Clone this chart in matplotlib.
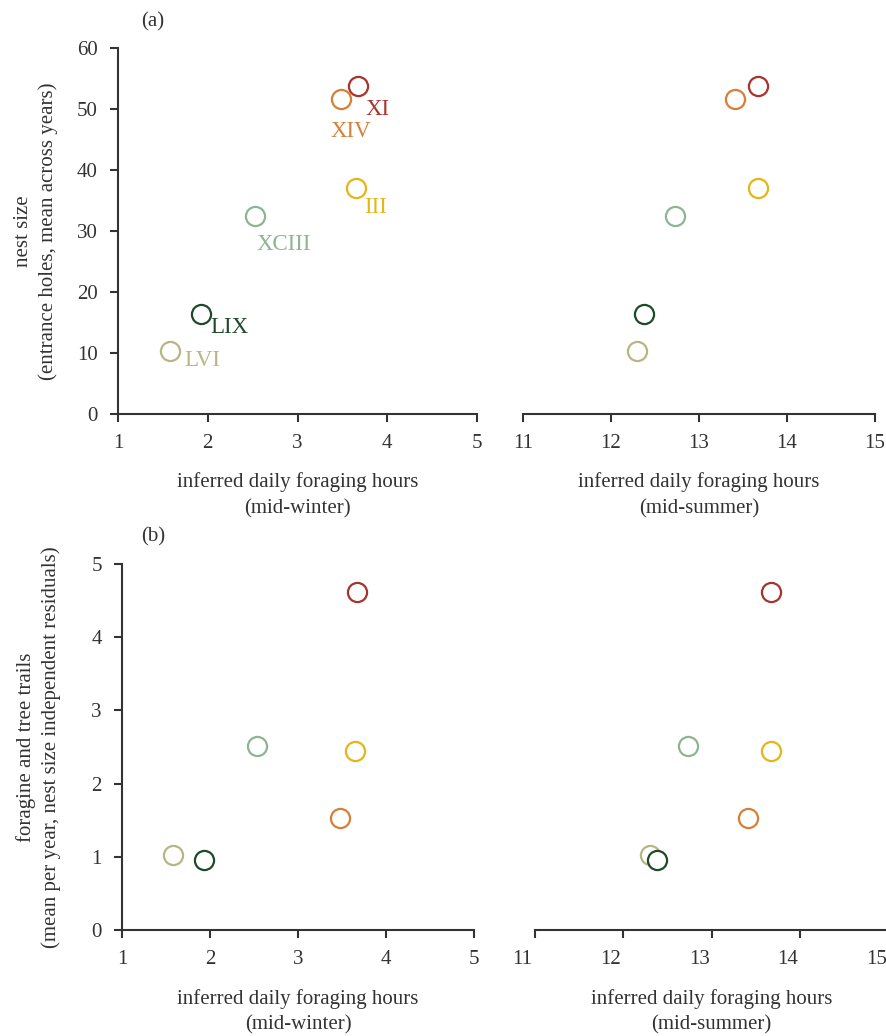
import matplotlib.pyplot as plt
from matplotlib.transforms import ScaledTranslation

plt.rcParams['font.family'] = ['Liberation Serif', 'DejaVu Serif']

# colonies and their values
colonies = ['XI', 'XIV', 'III', 'XCIII', 'LVI', 'LIX']
colors = ['#a8332b', '#d57f3a', '#e3b719', '#8db594', '#b9b584', '#1e4a28']
winter_hours = [3.67, 3.48, 3.65, 2.53, 1.58, 1.93]
summer_hours = [13.67, 13.41, 13.67, 12.73, 12.30, 12.38]
nest_size = [53.8, 51.6, 37.1, 32.5, 10.4, 16.4]
trails = [4.62, 1.53, 2.44, 2.51, 1.02, 0.96]

# label offsets (points) for panel (a), left side
label_offsets = {'XI': (6, -17), 'XIV': (-7, -23), 'III': (6, -14),
                 'XCIII': (1, -21), 'LVI': (10, -7), 'LIX': (6, -10)}

text_col = '#333333'
fs = 15

fig = plt.figure(figsize=(8.86, 10.36), dpi=100)
ax_a1 = fig.add_axes([0.1332, 0.6004, 0.4052, 0.3533])
ax_a2 = fig.add_axes([0.5903, 0.6004, 0.3973, 0.3533])
ax_b1 = fig.add_axes([0.1377, 0.1023, 0.3973, 0.3533])
ax_b2 = fig.add_axes([0.6033, 0.1023, 0.3995, 0.3533])


def style(ax, xlim, xticks, show_y, ylim, yticks):
    ax.set_xlim(*xlim)
    ax.set_ylim(*ylim)
    ax.set_xticks(xticks)
    for s in ['top', 'right']:
        ax.spines[s].set_visible(False)
    ax.spines['bottom'].set_linewidth(1.5)
    ax.spines['bottom'].set_color(text_col)
    ax.spines['left'].set_linewidth(1.5)
    ax.spines['left'].set_color(text_col)
    ax.tick_params(axis='both', length=5.5, width=1.5, color=text_col,
                   labelsize=fs, labelcolor=text_col, pad=9)
    if show_y:
        ax.set_yticks(yticks)
    else:
        ax.spines['left'].set_visible(False)
        ax.set_yticks([])
    ax.patch.set_alpha(0)


def scatter(ax, xs, ys):
    for x, y, c in zip(xs, ys, colors):
        ax.scatter(x, y, s=190, facecolors='white', edgecolors=c,
                   linewidths=1.6, zorder=3, clip_on=False)


# panel (a)
style(ax_a1, (1, 5), [1, 2, 3, 4, 5], True, (0, 60), range(0, 61, 10))
style(ax_a2, (11, 15), [11, 12, 13, 14, 15], False, (0, 60), [])
scatter(ax_a1, winter_hours, nest_size)
scatter(ax_a2, summer_hours, nest_size)
for name, x, y, c in zip(colonies, winter_hours, nest_size, colors):
    ax_a1.annotate(name, (x, y), xytext=label_offsets[name],
                   textcoords='offset points', color=c, fontsize=16.5,
                   ha='left', va='center')

ax_a1.set_ylabel('nest size\n(entrance holes, mean across years)',
                 fontsize=fs, color=text_col, labelpad=14, linespacing=1.35)

# panel (b)
style(ax_b1, (1, 5), [1, 2, 3, 4, 5], True, (0, 5), range(0, 6))
style(ax_b2, (11, 15), [11, 12, 13, 14, 15], False, (0, 5), [])
scatter(ax_b1, winter_hours, trails)
scatter(ax_b2, summer_hours, trails)
ax_b1.set_ylabel('foragine and tree trails\n'
                 '(mean per year, nest size independent residuals)',
                 fontsize=fs, color=text_col, labelpad=22, linespacing=1.35)

# tick labels in the lower right panel sit a little left of their ticks
shift = ScaledTranslation(-12 / 100, 0, fig.dpi_scale_trans)
for lab in ax_b2.get_xticklabels():
    lab.set_transform(lab.get_transform() + shift)

for ax in [ax_a1, ax_b1]:
    ax.set_xlabel('inferred daily foraging hours\n(mid-winter)',
                  fontsize=fs, color=text_col, labelpad=14,
                  linespacing=1.45)
for ax in [ax_a2, ax_b2]:
    ax.set_xlabel('inferred daily foraging hours\n(mid-summer)',
                  fontsize=fs, color=text_col, labelpad=14,
                  linespacing=1.45)

fig.text(153 / 886, 1 - 22 / 1036, '(a)', fontsize=fs, color=text_col,
         ha='center', va='center')
fig.text(153 / 886, 1 - 537 / 1036, '(b)', fontsize=fs, color=text_col,
         ha='center', va='center')

fig.savefig('out.png', dpi=100)
